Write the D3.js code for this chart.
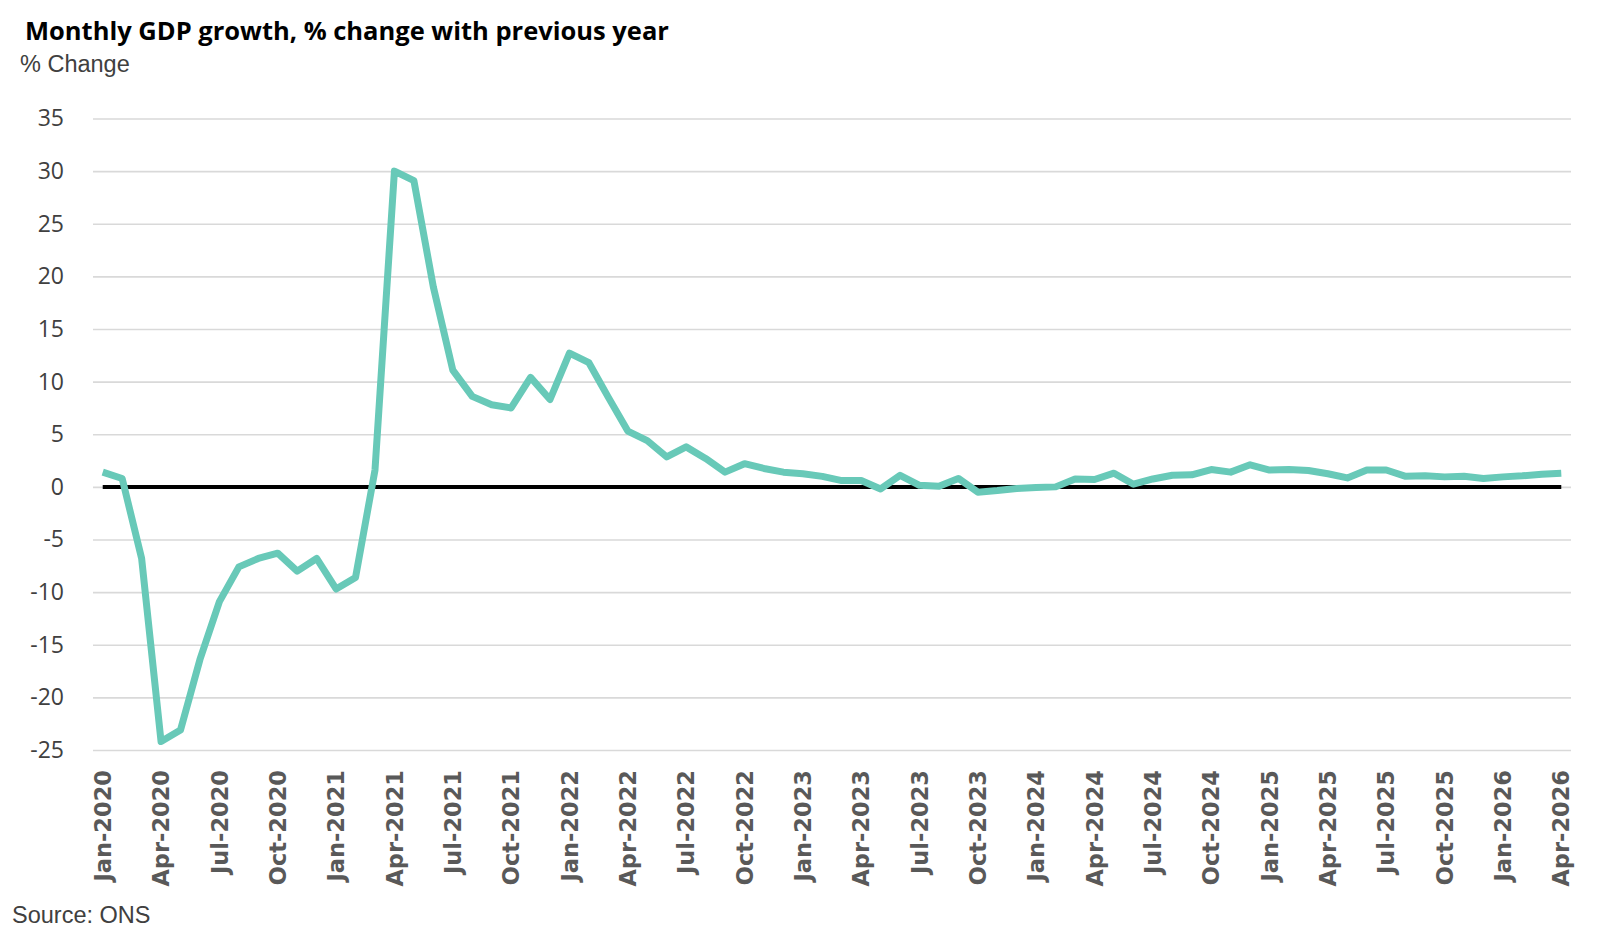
<!DOCTYPE html>
<html>
<head>
<meta charset="utf-8">
<script src="https://cdn.jsdelivr.net/npm/d3@7"></script>
<style>
    body { margin: 0; background: #fff; }
    #chart { width: 1600px; height: 942px; }
</style>
</head>
<body>
<div id="chart"></div>
<script>
// Month names + years used for the category axis
const monthNames = ['Jan', 'Feb', 'Mar', 'Apr', 'May', 'Jun', 'Jul', 'Aug', 'Sep', 'Oct', 'Nov', 'Dec'];
const years = [2020, 2021, 2022, 2023, 2024, 2025, 2026];

// GDP growth, % change with previous year
const growth2020 = [1.4, 0.8, -6.8, -24.2, -23.1, -16.4, -10.9, -7.6, -6.8, -6.3, -8.0, -6.8];
const growth2021 = [-9.7, -8.6, 1.6, 30.0, 29.1, 19.0, 11.1, 8.6, 7.8, 7.5, 10.4, 8.3];
const growth2022 = [12.7, 11.8, 8.5, 5.3, 4.4, 2.85, 3.8, 2.7, 1.4, 2.2, 1.75, 1.4];
const growth2023 = [1.25, 1.0, 0.6, 0.6, -0.2, 1.1, 0.15, 0.05, 0.8, -0.5, -0.35, -0.15];
const growth2024 = [-0.05, 0.0, 0.75, 0.7, 1.3, 0.25, 0.75, 1.1, 1.15, 1.65, 1.4, 2.1];
const growth2025 = [1.6, 1.65, 1.55, 1.25, 0.85, 1.6, 1.6, 1.0, 1.05, 0.95, 1.0, 0.8];
const growth2026 = [0.95, 1.05, 1.2, 1.3];

const yTicks = [-25, -20, -15, -10, -5, 0, 5, 10, 15, 20, 25, 30, 35];

const title = 'Monthly GDP growth, % change with previous year';
const yLabel = '% Change';
const source = 'Source: ONS';

// build the month/value table
const values = [].concat(growth2020, growth2021, growth2022, growth2023, growth2024, growth2025, growth2026);
const data = values.map((v, i) => ({
    k: `${monthNames[i % 12]}-${years[Math.floor(i / 12)]}`,
    v: v
}));

const width = 1600, height = 942;
const margin = [118.5, 192, 93, 29]; // top, bottom, left, right

const svg = d3.select('#chart')
    .append('svg')
    .attr('width', width)
    .attr('height', height);

const scaleX = d3.scaleBand()
    .domain(data.map(d => d.k))
    .range([margin[2], width - margin[3]]);

const scaleY = d3.scaleLinear()
    .domain([-25, 35])
    .range([height - margin[1], margin[0]]);

const cx = d => scaleX(d.k) + scaleX.bandwidth() / 2;

// Gridlines + y labels (plain hyphen for negatives, like the original)
const yAxis = svg.append('g')
    .attr('transform', `translate(${margin[2]}, 0)`)
    .call(d3.axisLeft(scaleY)
        .tickValues(yTicks)
        .tickFormat(d => String(d))
        .tickSize(-(width - margin[2] - margin[3]))
        .tickPadding(29));

yAxis.select('.domain').remove();
yAxis.selectAll('.tick line')
    .attr('stroke', '#d9d9d9')
    .attr('stroke-width', 1.6);
yAxis.selectAll('.tick text')
    .attr('fill', '#404040')
    .style('font-family', '"Open Sans", sans-serif')
    .style('font-size', '23px');

// X labels, every third month
const xAxis = svg.append('g')
    .attr('transform', `translate(0, ${height - margin[1] + 20})`)
    .call(d3.axisBottom(scaleX)
        .tickValues(data.filter((d, i) => i % 3 === 0).map(d => d.k))
        .tickSize(0)
        .tickPadding(0));

xAxis.select('.domain').remove();
xAxis.selectAll('.tick text')
    .attr('transform', 'rotate(-90)')
    .attr('text-anchor', 'end')
    .attr('x', 0)
    .attr('y', 0)
    .attr('dy', '0.36em')
    .attr('fill', '#595959')
    .style('font-family', '"DejaVu Sans", sans-serif')
    .style('font-weight', 'bold')
    .style('font-size', '22.5px');

// zero line
svg.append('path')
    .datum(data)
    .attr('fill', 'none')
    .attr('stroke', '#000')
    .attr('stroke-width', 4)
    .attr('d', d3.line().x(cx).y(scaleY(0)));

// series line
svg.append('path')
    .datum(data)
    .attr('fill', 'none')
    .attr('stroke', '#68c9b8')
    .attr('stroke-width', 7)
    .attr('stroke-linejoin', 'round')
    .attr('d', d3.line().x(cx).y(d => scaleY(d.v)));

// Titles
svg.append('text')
    .attr('x', 25)
    .attr('y', 40)
    .style('font-family', '"Open Sans", sans-serif')
    .style('font-weight', 'bold')
    .style('font-size', '25.5px')
    .attr('fill', '#000')
    .text(title);

svg.append('text')
    .attr('x', 20)
    .attr('y', 71.5)
    .style('font-family', '"Liberation Sans", Arial, sans-serif')
    .style('font-size', '23.5px')
    .attr('fill', '#404040')
    .text(yLabel);

svg.append('text')
    .attr('x', 12)
    .attr('y', 922.5)
    .style('font-family', '"Liberation Sans", Arial, sans-serif')
    .style('font-size', '23.5px')
    .attr('fill', '#404040')
    .text(source);
</script>
</body>
</html>
